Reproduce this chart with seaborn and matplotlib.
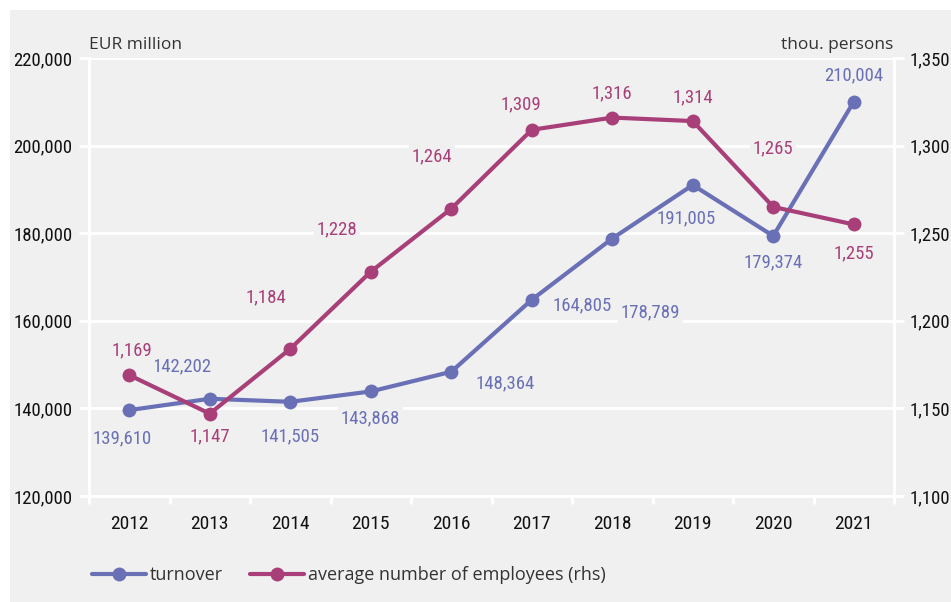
import numpy as np
import pandas as pd
import matplotlib
matplotlib.use("Agg")
import matplotlib.pyplot as plt
from matplotlib.patches import Rectangle
from matplotlib.lines import Line2D
from matplotlib import font_manager
import seaborn as sns

years = ["2012", "2013", "2014", "2015", "2016", "2017", "2018", "2019", "2020", "2021"]
turnover = [139610, 142202, 141505, 143868, 148364, 164805, 178789, 191005, 179374, 210004]
employees = [1169, 1147, 1184, 1228, 1264, 1309, 1316, 1314, 1265, 1255]
left_ticks = [120000, 140000, 160000, 180000, 200000, 220000]
right_ticks = [1100, 1150, 1200, 1250, 1300, 1350]

# label offsets in pixels (dx, dy)
turn_off = [(-7, -28), (-28, 32), (0, -35), (0, -27), (54, -12), (50, -6), (38, -74), (-7, -33), (0, -26), (0, 26)]
emp_off = [(3, 25), (0, -23), (-24, 51), (-34, 42), (-19, 52), (-11, 25), (0, 24), (0, 24), (0, 59), (0, -29)]

BLUE = "#6a70b6"
MAG = "#a83f78"
BG = "#f0f0f0"
REG = ["Open Sans", "DejaVu Sans"]

# pick a condensed face if one is installed
entries = font_manager.fontManager.ttflist
names = {f.name for f in entries}
narrow_name = None
stretch = "normal"
for cand in ["Liberation Sans Narrow", "Roboto Condensed", "Open Sans Condensed",
             "Noto Sans Condensed", "DejaVu Sans Condensed", "Arial Narrow"]:
    if cand in names:
        narrow_name = cand
        break
if narrow_name is None:
    for f in entries:
        if ("Narrow" in f.name or "Condensed" in f.name) and "Serif" not in f.name and "Mono" not in f.name:
            narrow_name = f.name
            break
if narrow_name is None:
    for f in entries:
        if str(f.stretch) in ("condensed", "semi-condensed") and f.name in ("DejaVu Sans", "Noto Sans", "Open Sans", "Roboto"):
            narrow_name = f.name
            stretch = str(f.stretch)
            break
if narrow_name is None:
    narrow_name = "DejaVu Sans"
NARROW = [narrow_name, "DejaVu Sans"]
NUM = dict(family=NARROW, stretch=stretch)

sns.set_theme(style="white")
plt.rcParams["font.family"] = NARROW
plt.rcParams["font.stretch"] = stretch

fig = plt.figure(figsize=(9.51, 6.02), dpi=100, facecolor="white")
fig.patches.append(Rectangle((10 / 951, 0), 1, 1 - 10 / 602, transform=fig.transFigure,
                             facecolor=BG, edgecolor="none", zorder=-10))
ax = fig.add_axes([89 / 951, 1 - 496 / 602, (894 - 89) / 951, (496 - 58) / 602])
ax.set_facecolor(BG)
ax2 = ax.twinx()

x = np.arange(len(years))
df = pd.DataFrame({"x": x, "turnover": turnover, "employees": employees})

sns.lineplot(data=df, x="x", y="turnover", ax=ax, color=BLUE, lw=3, marker="o",
             markersize=10, markeredgewidth=0, zorder=5)
sns.lineplot(data=df, x="x", y="employees", ax=ax2, color=MAG, lw=3, marker="o",
             markersize=10, markeredgewidth=0, zorder=5)

ax.set_xlim(-0.5, len(years) - 0.5)
ax.set_ylim(120000, 220000)
ax2.set_ylim(1100, 1350)
ax.set_yticks(left_ticks)
ax.set_yticklabels([f"{v:,}" for v in left_ticks])
ax2.set_yticks(right_ticks)
ax2.set_yticklabels([f"{v:,}" for v in right_ticks])
ax.set_xticks(x)
ax.set_xticklabels(years)
ax.set_xticks(np.arange(-0.5, len(years)), minor=True)
ax.set_xlabel("")
ax.set_ylabel("")
ax2.set_ylabel("")

ax.grid(axis="y", color="white", lw=2)
ax.set_axisbelow(True)
ax2.grid(False)
for a in (ax, ax2):
    for s in a.spines.values():
        s.set_color("white")
        s.set_linewidth(2)
    a.spines["top"].set_visible(False)

ax.tick_params(axis="y", which="major", left=True, length=7, width=2, color="white",
               labelsize=13.5, labelcolor="#111111", pad=5)
ax.tick_params(axis="x", which="major", bottom=False, labelsize=14, labelcolor="#111111", pad=8)
ax.tick_params(axis="x", which="minor", bottom=True, length=6, width=2, color="white")
ax2.tick_params(axis="y", right=True, length=7, width=2, color="white",
                labelsize=13.5, labelcolor="#111111", pad=4)
for t in ax.get_xticklabels() + ax.get_yticklabels() + ax2.get_yticklabels():
    t.set_fontstretch(stretch)

bbox = dict(boxstyle="square,pad=0.15", facecolor=BG, edgecolor="none")
for i, (v, (dx, dy)) in enumerate(zip(turnover, turn_off)):
    ax.annotate(f"{v:,}", (i, v), xytext=(dx * 0.72, dy * 0.72), textcoords="offset points",
                ha="center", va="center", fontsize=13.5, color=BLUE, bbox=bbox, zorder=3, **NUM)
for i, (v, (dx, dy)) in enumerate(zip(employees, emp_off)):
    ax2.annotate(f"{v:,}", (i, v), xytext=(dx * 0.72, dy * 0.72), textcoords="offset points",
                 ha="center", va="center", fontsize=13.5, color=MAG, bbox=bbox, zorder=3, **NUM)

fig.text(89 / 951, 1 - 45 / 602, "EUR million", ha="left", va="center", fontsize=12.5,
         color="#333333", family=REG)
fig.text(893 / 951, 1 - 45 / 602, "thou. persons", ha="right", va="center", fontsize=12.5,
         color="#333333", family=REG)

handles = [Line2D([], [], color=BLUE, lw=3, marker="o", markersize=10, markeredgewidth=0),
           Line2D([], [], color=MAG, lw=3, marker="o", markersize=10, markeredgewidth=0)]
leg = fig.legend(handles, ["turnover", "average number of employees (rhs)"],
                 loc="center left", bbox_to_anchor=(76 / 951, 1 - 575 / 602), ncol=2,
                 frameon=False, handlelength=3.0, handletextpad=0.2, columnspacing=1.5,
                 prop={"family": REG, "size": 13})
for t in leg.get_texts():
    t.set_color("#333333")

fig.savefig("out.png", dpi=100, facecolor=fig.get_facecolor())
